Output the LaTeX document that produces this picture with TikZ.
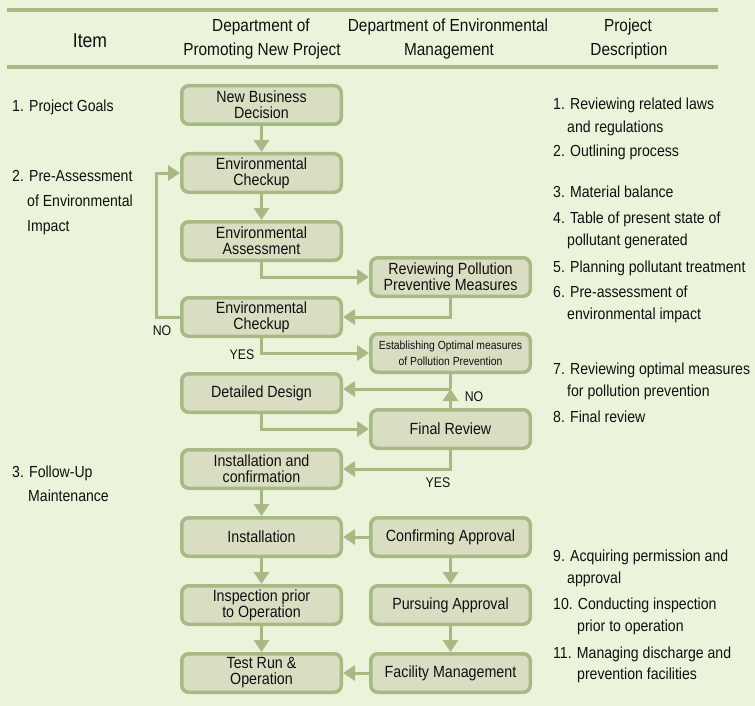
\documentclass[tikz,border=0pt]{standalone}
\usepackage{fontspec}
\setmainfont{Liberation Sans}[FakeStretch=0.88]
\usetikzlibrary{arrows.meta}

\definecolor{bgpale}{HTML}{EBF4DA}
\definecolor{boxfill}{HTML}{D9DEC3}
\definecolor{olive}{HTML}{A9B985}
\definecolor{ink}{HTML}{101010}

\begin{document}
\begin{tikzpicture}[x=1pt,y=-1pt,
  stepbox/.style={draw=olive, fill=boxfill, line width=3.5pt, rounded corners=7pt,
    minimum width=159.5pt, minimum height=38.5pt, inner sep=0pt, outer sep=1.75pt,
    align=center, text=ink, font=\fontsize{16.2}{16}\selectfont},
  smallbox/.style={stepbox, font=\fontsize{11.8}{16}\selectfont},
  link/.style={draw=olive, line width=3pt, -{Triangle[length=12pt,width=15pt]}},
  plain/.style={draw=olive, line width=3pt},
  rule/.style={draw=olive, line width=4pt},
  head/.style={anchor=base, inner sep=0pt, text=ink, font=\fontsize{17.5}{18}\selectfont},
  desc/.style={anchor=base west, inner sep=0pt, text=ink, font=\fontsize{16}{18}\selectfont},
  lbl/.style={inner sep=0pt, text=ink, font=\fontsize{14}{14}\selectfont}]

% canvas
\fill[bgpale] (0,0) rectangle (755,706);
\useasboundingbox (0,0) rectangle (755,706);

% header rules
\coordinate (r1a) at (7,10);   \coordinate (r1b) at (718,10);
\coordinate (r2a) at (7,67);   \coordinate (r2b) at (718,67);
\draw[rule] (r1a) -- (r1b);
\draw[rule] (r2a) -- (r2b);

% header titles
\node[head, anchor=base, font=\fontsize{20}{20}\selectfont] (hItem) at (90,48) {Item};
\node[head] (hP1) at (261,32) {Department of};
\node[head] (hP2) at (262,56) {Promoting New Project};
\node[head] (hE1) at (448,32) {Department of Environmental};
\node[head] (hE2) at (449,56) {Management};
\node[head] (hD1) at (628,32) {Project};
\node[head] (hD2) at (629,56) {Description};

% item column
\node[desc] (i1)  at (12,112) {1. Project Goals};
\node[desc] (i2a) at (12,181) {2. Pre-Assessment};
\node[desc] (i2b) at (27,206) {of Environmental};
\node[desc] (i2c) at (27,231) {Impact};
\node[desc] (i3a) at (12,477) {3. Follow-Up};
\node[desc] (i3b) at (28,501) {Maintenance};

% department of promoting new project
\node[stepbox] (b1) at (261.5,105) {New Business\\Decision};
\node[stepbox] (b2) at (261.5,173) {Environmental\\Checkup};
\node[stepbox] (b3) at (261.5,241) {Environmental\\Assessment};
\node[stepbox] (b4) at (261.5,317) {Environmental\\Checkup};
\node[stepbox] (b5) at (261.5,393) {Detailed Design};
\node[stepbox] (b6) at (261.5,469) {Installation and\\confirmation};
\node[stepbox] (b7) at (261.5,537) {Installation};
\node[stepbox] (b8) at (261.5,605) {Inspection prior\\to Operation};
\node[stepbox] (b9) at (261.5,673) {Test Run \&\\Operation};

% department of environmental management
\node[stepbox] (e1) at (450.5,277) {Reviewing Pollution\\Preventive Measures};
\node[smallbox] (e2) at (450.5,353) {Establishing Optimal measures\\of Pollution Prevention};
\node[stepbox] (e3) at (450.5,429) {Final Review};
\node[stepbox] (e4) at (450.5,537) {Confirming Approval};
\node[stepbox] (e5) at (450.5,605) {Pursuing Approval};
\node[stepbox] (e6) at (450.5,673) {Facility Management};

% connectors
\draw[link] (b1) -- (b2);
\draw[link] (b2) -- (b3);
\draw[link] (b3.south) |- (e1.west);
\draw[link] (e1.south) |- (b4.east);
\draw[link] (b4.west) -- ++(-24,0) |- (b2.west);
\draw[link] (b4.south) |- (e2.west);
\coordinate (lvl) at (0,389);
\coordinate (jn) at (e2.south |- lvl);
\draw[plain] (e2.south) -- (jn);
\draw[link] (jn) -- (b5.east |- jn);
\draw[link] (e3.north) -- (jn);
\draw[link] (b5.south) |- (e3.west);
\draw[link] (e3.south) |- (b6.east);
\draw[link] (b6) -- (b7);
\draw[link] (b7) -- (b8);
\draw[link] (b8) -- (b9);
\draw[link] (e4) -- (b7);
\draw[link] (e4) -- (e5);
\draw[link] (e5) -- (e6);
\draw[link] (e6) -- (b9);

% branch labels
\node[lbl] (noA)  at (162,331) {NO};
\node[lbl] (yesA) at (242,355) {YES};
\node[lbl] (noB)  at (474,397) {NO};
\node[lbl] (yesB) at (438,483) {YES};

% project description column
\node[desc] (d1a)  at (553,110) {1. Reviewing related laws};
\node[desc] (d1b)  at (567,132) {and regulations};
\node[desc] (d2)   at (553,157) {2. Outlining process};
\node[desc] (d3)   at (553,197) {3. Material balance};
\node[desc] (d4a)  at (553,223) {4. Table of present state of};
\node[desc] (d4b)  at (567,245) {pollutant generated};
\node[desc] (d5)   at (553,272) {5. Planning pollutant treatment};
\node[desc] (d6a)  at (553,297) {6. Pre-assessment of};
\node[desc] (d6b)  at (567,319) {environmental impact};
\node[desc] (d7a)  at (553,374) {7. Reviewing optimal measures};
\node[desc] (d7b)  at (567,396) {for pollution prevention};
\node[desc] (d8)   at (553,422) {8. Final review};
\node[desc] (d9a)  at (553,561) {9. Acquiring permission and};
\node[desc] (d9b)  at (567,583) {approval};
\node[desc] (d10a) at (553,609) {10. Conducting inspection};
\node[desc] (d10b) at (577,631) {prior to operation};
\node[desc] (d11a) at (553,658) {11. Managing discharge and};
\node[desc] (d11b) at (577,679) {prevention facilities};
\end{tikzpicture}
\end{document}
